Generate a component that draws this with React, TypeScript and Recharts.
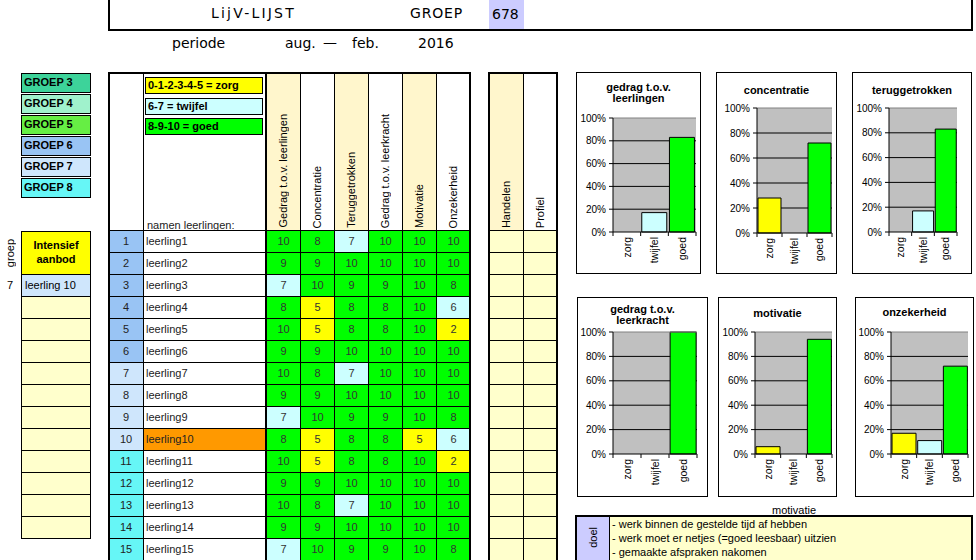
import React from "react";
import {
  BarChart,
  Bar,
  XAxis,
  YAxis,
  CartesianGrid,
  Cell,
  ReferenceLine,
} from "recharts";

// ---------------------------------------------------------------------------
// data read from the sheet
// ---------------------------------------------------------------------------

const CATEGORIES = ["zorg", "twijfel", "goed"];
const PCT_TICKS = [0, 20, 40, 60, 80, 100];

// percentage of pupils per category
const GEDRAG_LLN = [0, 17, 83];
const CONCENTRATIE = [28, 0, 72];
const TERUGGETROKKEN = [0, 17, 83];
const GEDRAG_LK = [0, 0, 100];
const MOTIVATIE = [6, 0, 94];
const ONZEKERHEID = [17, 11, 72];

const SCORE_HEADERS = [
  "Gedrag t.o.v. leerlingen",
  "Concentratie",
  "Teruggetrokken",
  "Gedrag t.o.v. leerkracht",
  "Motivatie",
  "Onzekerheid",
];
const EXTRA_HEADERS = ["Handelen", "Profiel"];

const STUDENTS = [
  "leerling1", "leerling2", "leerling3", "leerling4", "leerling5",
  "leerling6", "leerling7", "leerling8", "leerling9", "leerling10",
  "leerling11", "leerling12", "leerling13", "leerling14", "leerling15",
];
const STUDENT_GROEP = [6, 6, 6, 6, 6, 6, 7, 7, 7, 7, 8, 8, 8, 8, 8];
const HIGHLIGHT_STUDENT = "leerling10";

const SCORES = [
  [10, 8, 7, 10, 10, 10],
  [9, 9, 10, 10, 10, 10],
  [7, 10, 9, 9, 10, 8],
  [8, 5, 8, 8, 10, 6],
  [10, 5, 8, 8, 10, 2],
  [9, 9, 10, 10, 10, 10],
  [10, 8, 7, 10, 10, 10],
  [9, 9, 10, 10, 10, 10],
  [7, 10, 9, 9, 10, 8],
  [8, 5, 8, 8, 5, 6],
  [10, 5, 8, 8, 10, 2],
  [9, 9, 10, 10, 10, 10],
  [10, 8, 7, 10, 10, 10],
  [9, 9, 10, 10, 10, 10],
  [7, 10, 9, 9, 10, 8],
];

const GROEPEN = [3, 4, 5, 6, 7, 8];
const LEGEND = ["0-1-2-3-4-5 = zorg", "6-7 = twijfel", "8-9-10 = goed"];
const INTENSIEF = [{ groep: 7, naam: "leerling 10" }];
const DOEL = [
  "- werk binnen de gestelde tijd af hebben",
  "- werk moet er netjes (=goed leesbaar) uitzien",
  "- gemaakte afspraken nakomen",
];

// ---------------------------------------------------------------------------
// styling
// ---------------------------------------------------------------------------

const FONT = "'Liberation Sans', Arial, sans-serif";
const HAND = "'DejaVu Sans', sans-serif";

const CAT_COLOR: Record<string, string> = {
  zorg: "#ffff00",
  twijfel: "#ccffff",
  goed: "#00ff00",
};
const LEGEND_COLOR = ["#ffff00", "#ccffff", "#00ff00"];
const GROEP_COLOR: Record<number, string> = {
  3: "#3dd39a",
  4: "#a0f2cc",
  5: "#66ee44",
  6: "#99c4f4",
  7: "#cfe6fc",
  8: "#66f6f6",
};

function scoreColor(v: number) {
  if (v <= 5) return "#ffff00";
  if (v <= 7) return "#ccffff";
  return "#00ff00";
}

const COL_X = [266, 300, 334, 368, 402, 436, 470];
const EXTRA_X = [488, 523, 557];
const HEAD_TOP = 72;
const BODY_TOP = 230;
const ROW_H = 22;

// little chart boxes: [x0, y0, x1, y1] of the frame and of the plot area
const CHARTS = [
  { title: ["gedrag t.o.v.", "leerlingen"], values: GEDRAG_LLN, box: [576, 72, 700, 273], plot: [613, 118, 696, 232], titleY: 9 },
  { title: ["concentratie"], values: CONCENTRATIE, box: [716, 72, 836, 273], plot: [757, 108, 832, 233], titleY: 12 },
  { title: ["teruggetrokken"], values: TERUGGETROKKEN, box: [852, 72, 971, 273], plot: [889, 108, 957, 232], titleY: 12 },
  { title: ["gedrag t.o.v.", "leerkracht"], values: GEDRAG_LK, box: [577, 297, 707, 496], plot: [613, 332, 697, 454], titleY: 6 },
  { title: ["motivatie"], values: MOTIVATIE, box: [718, 297, 836, 496], plot: [755, 332, 832, 454], titleY: 10 },
  { title: ["onzekerheid"], values: ONZEKERHEID, box: [855, 297, 973, 496], plot: [891, 332, 968, 454], titleY: 9 },
];

// ---------------------------------------------------------------------------
// helpers
// ---------------------------------------------------------------------------

function Box({
  x0, y0, x1, y1, bg, border = 1, style, children,
}: {
  x0: number; y0: number; x1: number; y1: number;
  bg?: string; border?: number; style?: React.CSSProperties; children?: React.ReactNode;
}) {
  return (
    <div
      style={{
        position: "absolute",
        left: x0,
        top: y0,
        width: x1 - x0 + 1,
        height: y1 - y0 + 1,
        boxSizing: "border-box",
        border: border ? `${border}px solid #000` : "none",
        background: bg ?? "transparent",
        ...style,
      }}
    >
      {children}
    </div>
  );
}

function Txt({
  x, y, children, size = 11, style,
}: {
  x: number; y: number; size?: number; style?: React.CSSProperties; children?: React.ReactNode;
}) {
  return (
    <div
      style={{
        position: "absolute",
        left: x,
        top: y - 10,
        height: 20,
        lineHeight: "20px",
        fontSize: size,
        whiteSpace: "nowrap",
        ...style,
      }}
    >
      {children}
    </div>
  );
}

function VertText({ text, bottom = 2, size = 11 }: { text: string; bottom?: number; size?: number }) {
  return (
    <div
      style={{
        position: "absolute",
        left: 0,
        right: 0,
        bottom,
        display: "flex",
        justifyContent: "center",
      }}
    >
      <span
        style={{
          writingMode: "vertical-rl",
          transform: "rotate(180deg)",
          whiteSpace: "nowrap",
          fontSize: size,
          lineHeight: 1,
        }}
      >
        {text}
      </span>
    </div>
  );
}

function CatTick(props: any) {
  const { x, y, payload, index, visibleTicksCount, width } = props;
  const off =
    payload && typeof payload.offset === "number" && payload.offset > 0
      ? payload.offset
      : width / (2 * visibleTicksCount);
  const last = index === visibleTicksCount - 1;
  return (
    <g>
      <line x1={x - off} x2={x - off} y1={y} y2={y + 4} stroke="#000" />
      {last && <line x1={x + off} x2={x + off} y1={y} y2={y + 4} stroke="#000" />}
      <text
        x={x}
        y={y + 5}
        transform={`rotate(-90 ${x} ${y + 5})`}
        textAnchor="end"
        dy="0.35em"
        fontSize={10.5}
        fontFamily={FONT}
        fill="#000"
      >
        {payload.value}
      </text>
    </g>
  );
}

function MiniChart({ cfg }: { cfg: (typeof CHARTS)[number] }) {
  const [bx0, by0, bx1, by1] = cfg.box;
  const [px0, py0, px1, py1] = cfg.plot;
  const W = bx1 - bx0 - 1;
  const H = by1 - by0 - 1;
  const ox = bx0 + 1;
  const oy = by0 + 1;
  const bottomM = 4;
  const data = CATEGORIES.map((c, i) => ({ cat: c, pct: cfg.values[i] }));

  return (
    <Box x0={bx0} y0={by0} x1={bx1} y1={by1} bg="#fff">
      <div
        style={{
          position: "absolute",
          left: 0,
          right: 0,
          top: cfg.titleY,
          textAlign: "center",
          fontWeight: "bold",
          fontSize: 11,
          lineHeight: "11px",
        }}
      >
        {cfg.title.map((t) => (
          <div key={t}>{t}</div>
        ))}
      </div>
      <div style={{ position: "absolute", left: 0, top: 0 }}>
        <BarChart
          width={W}
          height={H}
          data={data}
          margin={{ top: py0 - oy, right: ox + W - px1, bottom: bottomM, left: 0 }}
          barCategoryGap="4%"
        >
          <CartesianGrid
            vertical={false}
            stroke="#000"
            fill="#c0c0c0"
            fillOpacity={1}
            horizontalValues={[20, 40, 60, 80]}
          />
          <ReferenceLine y={100} stroke="#808080" />
          <XAxis
            dataKey="cat"
            height={oy + H - py1 - bottomM}
            axisLine={{ stroke: "#000" }}
            tickLine={false}
            tickSize={0}
            tickMargin={0}
            interval={0}
            tick={(p: any) => <CatTick {...p} />}
          />
          <YAxis
            type="number"
            domain={[0, 100]}
            ticks={PCT_TICKS}
            interval={0}
            width={px0 - ox}
            tickFormatter={(v: number) => `${v}%`}
            axisLine={{ stroke: "#000" }}
            tickLine={{ stroke: "#000" }}
            tickSize={4}
            tickMargin={3}
            tick={{ fill: "#000", fontSize: 10, fontFamily: FONT }}
          />
          <Bar dataKey="pct" isAnimationActive={false} stroke="#000" strokeWidth={1}>
            {data.map((d) => (
              <Cell key={d.cat} fill={CAT_COLOR[d.cat]} />
            ))}
          </Bar>
        </BarChart>
      </div>
    </Box>
  );
}

// ---------------------------------------------------------------------------
// page
// ---------------------------------------------------------------------------

export default function App() {
  const bodyBottom = BODY_TOP + ROW_H * STUDENTS.length;

  return (
    <div
      style={{
        position: "absolute",
        left: 0,
        top: 0,
        width: 976,
        height: 560,
        overflow: "hidden",
        background: "#fff",
        fontFamily: FONT,
        fontSize: 11,
        color: "#000",
      }}
    >
      {/* title block */}
      <Box x0={108} y0={-3} x1={972} y1={30} border={2} />
      <div style={{ position: "absolute", left: 489, top: 0, width: 35, height: 29, background: "#ccccff" }} />
      <Txt x={211} y={13} size={14} style={{ fontFamily: HAND, letterSpacing: 2.2 }}>LijV-LIJST</Txt>
      <Txt x={410} y={13} size={14} style={{ fontFamily: HAND, letterSpacing: 0.8 }}>GROEP</Txt>
      <Txt x={492} y={14} size={14} style={{ fontFamily: HAND }}>678</Txt>
      <Txt x={172} y={43} size={14} style={{ fontFamily: HAND }}>periode</Txt>
      <Txt x={285} y={43} size={14} style={{ fontFamily: HAND }}>aug.</Txt>
      <Txt x={323} y={42} size={14} style={{ fontFamily: HAND }}>—</Txt>
      <Txt x={352} y={43} size={14} style={{ fontFamily: HAND }}>feb.</Txt>
      <Txt x={418} y={43} size={14} style={{ fontFamily: HAND }}>2016</Txt>

      {/* groep colour key */}
      {GROEPEN.map((g, i) => (
        <Box key={g} x0={21} y0={73 + i * 21} x1={90} y1={92 + i * 21} bg={GROEP_COLOR[g]}>
          <div style={{ paddingLeft: 2, lineHeight: "17px", fontWeight: "bold", fontSize: 11 }}>GROEP {g}</div>
        </Box>
      ))}

      {/* intensief aanbod */}
      <div
        style={{
          position: "absolute",
          left: 3,
          top: 232,
          width: 14,
          height: 42,
          display: "flex",
          alignItems: "center",
          justifyContent: "center",
        }}
      >
        <span style={{ writingMode: "vertical-rl", transform: "rotate(180deg)", fontSize: 11 }}>groep</span>
      </div>
      <Box x0={21} y0={231} x1={90} y1={274} bg="#ffff00">
        <div style={{ textAlign: "center", fontWeight: "bold", fontSize: 11, lineHeight: "14px", paddingTop: 6 }}>
          Intensief
          <br />
          aanbod
        </div>
      </Box>
      {INTENSIEF.map((r, i) => (
        <React.Fragment key={r.naam}>
          <Txt x={7} y={285 + i * ROW_H}>{r.groep}</Txt>
          <Box x0={21} y0={274 + i * ROW_H} x1={90} y1={296 + i * ROW_H} bg={GROEP_COLOR[r.groep]}>
            <div style={{ paddingLeft: 3, lineHeight: "20px" }}>{r.naam}</div>
          </Box>
        </React.Fragment>
      ))}
      {Array.from({ length: 11 }).map((_, i) => (
        <Box key={i} x0={21} y0={296 + i * ROW_H} x1={90} y1={296 + (i + 1) * ROW_H} bg="#ffffcc" />
      ))}

      {/* main table header */}
      <Box x0={108} y0={HEAD_TOP} x1={143} y1={BODY_TOP} bg="#fff" />
      <Box x0={143} y0={HEAD_TOP} x1={COL_X[0]} y1={BODY_TOP} bg="#fff">
        <Txt x={3} y={152} style={{ color: "#222" }}>namen leerlingen:</Txt>
      </Box>
      {LEGEND.map((t, i) => (
        <Box key={t} x0={145} y0={77 + i * 20.5} x1={262} y1={93 + i * 20.5} bg={LEGEND_COLOR[i]}>
          <div style={{ paddingLeft: 2, lineHeight: "14px", fontWeight: "bold", fontSize: 11 }}>{t}</div>
        </Box>
      ))}
      {SCORE_HEADERS.map((h, j) => (
        <Box key={h} x0={COL_X[j]} y0={HEAD_TOP} x1={COL_X[j + 1]} y1={BODY_TOP} bg={j % 2 === 0 ? "#fff6cc" : "#fff"}>
          <VertText text={h} />
        </Box>
      ))}

      {/* main table body */}
      {STUDENTS.map((name, i) => {
        const y0 = BODY_TOP + i * ROW_H;
        const y1 = y0 + ROW_H;
        return (
          <React.Fragment key={name}>
            <Box x0={108} y0={y0} x1={143} y1={y1} bg={GROEP_COLOR[STUDENT_GROEP[i]]}>
              <div style={{ textAlign: "center", lineHeight: "20px", color: "#222" }}>{i + 1}</div>
            </Box>
            <Box x0={143} y0={y0} x1={COL_X[0]} y1={y1} bg={name === HIGHLIGHT_STUDENT ? "#ff9900" : "#fff"}>
              <div style={{ paddingLeft: 2, lineHeight: "20px", color: "#222" }}>{name}</div>
            </Box>
            {SCORES[i].map((v, j) => (
              <Box key={j} x0={COL_X[j]} y0={y0} x1={COL_X[j + 1]} y1={y1} bg={scoreColor(v)}>
                <div style={{ textAlign: "center", lineHeight: "20px", color: "#333" }}>{v}</div>
              </Box>
            ))}
          </React.Fragment>
        );
      })}
      <Box x0={108} y0={HEAD_TOP} x1={COL_X[6]} y1={bodyBottom + 2} border={2} />
      <div style={{ position: "absolute", left: COL_X[0] - 1, top: HEAD_TOP, width: 2, height: bodyBottom - HEAD_TOP, background: "#000" }} />

      {/* handelen / profiel */}
      {EXTRA_HEADERS.map((h, j) => (
        <Box key={h} x0={EXTRA_X[j]} y0={HEAD_TOP} x1={EXTRA_X[j + 1]} y1={BODY_TOP} bg={j === 0 ? "#fff6cc" : "#fff"}>
          <VertText text={h} />
        </Box>
      ))}
      {STUDENTS.map((name, i) =>
        EXTRA_HEADERS.map((h, j) => (
          <Box
            key={name + h}
            x0={EXTRA_X[j]}
            y0={BODY_TOP + i * ROW_H}
            x1={EXTRA_X[j + 1]}
            y1={BODY_TOP + (i + 1) * ROW_H}
            bg="#ffffcc"
          />
        ))
      )}
      <Box x0={EXTRA_X[0]} y0={HEAD_TOP} x1={EXTRA_X[2]} y1={bodyBottom + 2} border={2} />

      {/* charts */}
      {CHARTS.map((c) => (
        <MiniChart key={c.title.join(" ")} cfg={c} />
      ))}

      {/* doel block */}
      <Txt x={772} y={510}>motivatie</Txt>
      <Box x0={575} y0={515} x1={972} y1={564} border={2} bg="#ffffcc">
        <div
          style={{
            position: "absolute",
            left: 0,
            top: 0,
            width: 32,
            height: "100%",
            background: "#ccccff",
            borderRight: "1px solid #000",
            display: "flex",
            alignItems: "center",
            justifyContent: "center",
          }}
        >
          <span style={{ writingMode: "vertical-rl", transform: "rotate(180deg)", fontSize: 11, marginTop: -6 }}>doel</span>
        </div>
        {DOEL.map((t, i) => (
          <div
            key={t}
            style={{ position: "absolute", left: 35, top: 0 + i * 14.2, lineHeight: "14px", fontSize: 11, whiteSpace: "nowrap" }}
          >
            {t}
          </div>
        ))}
      </Box>
    </div>
  );
}
